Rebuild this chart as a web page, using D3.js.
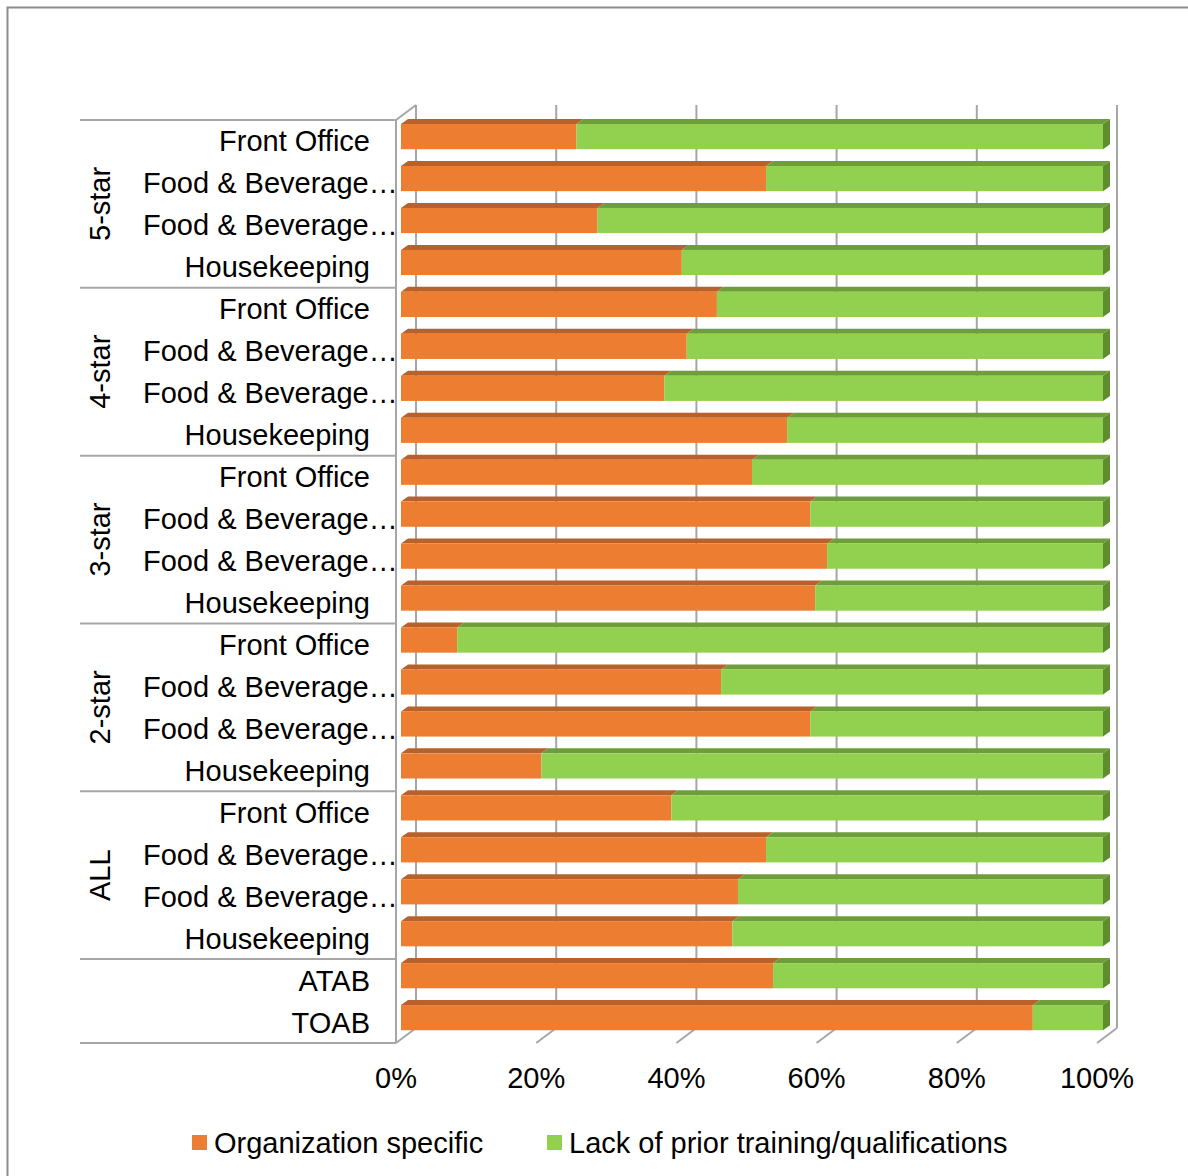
<!DOCTYPE html>
<html>
<head>
<meta charset="utf-8">
<script src="https://cdn.jsdelivr.net/npm/d3@7"></script>
<style>
  html, body { margin: 0; padding: 0; background: #fff; }
  svg { display: block; font-family: Arial, "Liberation Sans", sans-serif; }
</style>
</head>
<body>
<svg id="chart" width="1188" height="1176"></svg>
<script>
// Category rows, top to bottom
const groups = ["5-star", "4-star", "3-star", "2-star", "ALL", ""];
const groupSizes = [4, 4, 4, 4, 4, 2];
const categories = [
  "Front Office", "Food & Beverage…", "Food & Beverage…", "Housekeeping",
  "Front Office", "Food & Beverage…", "Food & Beverage…", "Housekeeping",
  "Front Office", "Food & Beverage…", "Food & Beverage…", "Housekeeping",
  "Front Office", "Food & Beverage…", "Food & Beverage…", "Housekeeping",
  "Front Office", "Food & Beverage…", "Food & Beverage…", "Housekeeping",
  "ATAB", "TOAB"
];
// Share of responses, in percent
const orgSpecific = [25, 52, 28, 40, 45, 40.7, 37.5, 55, 50, 58.3, 60.7, 59, 8, 45.6, 58.3, 20, 38.5, 52, 48, 47.2, 53, 90];
const lackTraining = orgSpecific.map(v => 100 - v);
const seriesNames = ["Organization specific", "Lack of prior training/qualifications"];
const tickValues = [0, 20, 40, 60, 80, 100];

const colors = {
  org: { front: "#ED7D31", top: "#B9612A", side: "#A9561F" },
  lack: { front: "#92D050", top: "#6E9E3A", side: "#5F8C2F" }
};
const wallColor = "#a6a6a6";

const svg = d3.select("#chart");

// Outer frame
svg.append("rect").attr("x", 7.5).attr("y", 7.5).attr("width", 1200).attr("height", 1200)
  .attr("fill", "none").attr("stroke", "#8c8c8c").attr("stroke-width", 2);

// Plot box: front plane and depth offset of the back wall
const front = { top: 120, bottom: 1043 };
const depth = { dx: 20, dy: -15 };
const xWall = d3.scaleLinear().domain([0, 100]).range([396, 1097]);
const xBar = d3.scaleLinear().domain([0, 100]).range([401, 1103]);
const barDepth = { dx: 7, dy: -5 };

const idx = d3.range(categories.length);
const y = d3.scaleBand().domain(idx).range([front.top, front.bottom])
  .paddingInner(0.4).paddingOuter(0.2).align(0.24);
const step = y.step();

// Back wall gridlines and floor edges
const grid = svg.append("g").attr("stroke", wallColor).attr("stroke-width", 2).attr("fill", "none");
tickValues.forEach(t => {
  const fx = xWall(t);
  const bx = fx + depth.dx;
  grid.append("line").attr("x1", bx).attr("x2", bx)
    .attr("y1", front.top + depth.dy).attr("y2", front.bottom + depth.dy);
  grid.append("line").attr("x1", fx).attr("x2", bx)
    .attr("y1", front.bottom).attr("y2", front.bottom + depth.dy);
});
// Left side wall edges
grid.append("line").attr("x1", xWall(0)).attr("x2", xWall(0)).attr("y1", front.top).attr("y2", front.bottom);
grid.append("line").attr("x1", xWall(0)).attr("x2", xWall(0) + depth.dx)
  .attr("y1", front.top).attr("y2", front.top + depth.dy);

// Stacked 3D bars
const stackData = idx.map(i => ({ i, org: orgSpecific[i], lack: lackTraining[i] }));
const stack = d3.stack().keys(["org", "lack"])(stackData);
const bars = svg.append("g");
stack.forEach(layer => {
  const c = colors[layer.key];
  layer.forEach(d => {
    const i = d.data.i;
    const x0 = xBar(d[0]), x1 = xBar(d[1]);
    const y0 = y(i), h = y.bandwidth();
    const g = bars.append("g");
    // top face
    g.append("path").attr("fill", c.top)
      .attr("d", `M${x0},${y0}L${x0 + barDepth.dx},${y0 + barDepth.dy}L${x1 + barDepth.dx},${y0 + barDepth.dy}L${x1},${y0}Z`);
    // front face
    g.append("rect").attr("x", x0).attr("y", y0).attr("width", x1 - x0).attr("height", h).attr("fill", c.front);
    // right end face
    if (d[1] >= 100) {
      g.append("path").attr("fill", c.side)
        .attr("d", `M${x1},${y0}L${x1 + barDepth.dx},${y0 + barDepth.dy}L${x1 + barDepth.dx},${y0 + h + barDepth.dy}L${x1},${y0 + h}Z`);
    }
  });
});

// Category axis: separators
const sep = svg.append("g").attr("stroke", wallColor).attr("stroke-width", 2);
let acc = 0;
const bounds = [0];
groupSizes.forEach(n => { acc += n; bounds.push(acc); });
bounds.forEach(b => {
  const yy = front.top + step * b;
  sep.append("line").attr("x1", 80).attr("x2", xWall(0)).attr("y1", yy).attr("y2", yy);
});

// Category labels
const labels = svg.append("g").attr("font-size", 29).attr("fill", "#000");
idx.forEach(i => {
  const cy = front.top + step * (i + 0.5);
  const txt = categories[i];
  const truncated = txt.endsWith("…");
  labels.append("text")
    .attr("x", truncated ? 143 : 370)
    .attr("y", cy + 10.5)
    .attr("text-anchor", truncated ? "start" : "end")
    .text(txt);
});

// Group labels (rotated)
groups.forEach((gname, k) => {
  if (!gname) return;
  const cy = front.top + step * (bounds[k] + bounds[k + 1]) / 2;
  labels.append("text")
    .attr("transform", `translate(110,${cy}) rotate(-90)`)
    .attr("text-anchor", "middle")
    .text(gname);
});

// Value axis labels
const fmt = d => d + "%";
svg.append("g").attr("font-size", 29).attr("fill", "#000")
  .selectAll("text").data(tickValues).join("text")
  .attr("x", d => xWall(d)).attr("y", 1088).attr("text-anchor", "middle")
  .text(fmt);

// Legend
const legend = svg.append("g").attr("font-size", 29);
const legendItems = [
  { name: seriesNames[0], color: colors.org.front, x: 192 },
  { name: seriesNames[1], color: colors.lack.front, x: 547 }
];
legendItems.forEach(it => {
  legend.append("rect").attr("x", it.x).attr("y", 1135).attr("width", 15).attr("height", 15).attr("fill", it.color);
  legend.append("text").attr("x", it.x + 22).attr("y", 1153).text(it.name);
});
</script>
</body>
</html>
